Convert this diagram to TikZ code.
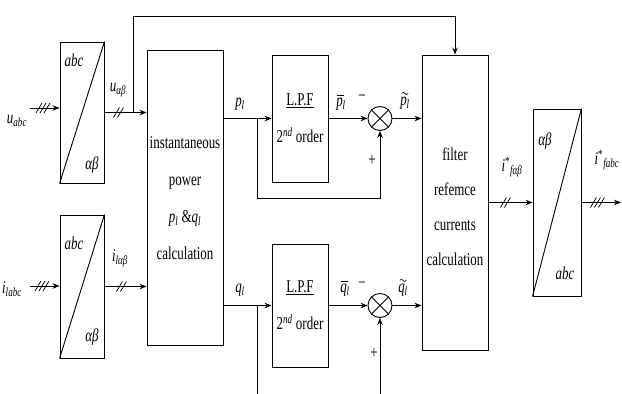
\documentclass[tikz,border=0pt]{standalone}
\usepackage{fontspec}
\setmainfont{Liberation Serif}[FakeStretch=0.72]
\usetikzlibrary{arrows.meta,calc}
\newcommand{\vr}[2]{\textit{#1}\textsubscript{\textit{#2}}}
\newcommand{\vrs}[2]{\textit{#1}\textsuperscript{*}\textsubscript{\textit{#2}}}
\begin{document}
\begin{tikzpicture}[x=1pt,y=-1pt,
  font=\fontsize{18}{20}\selectfont,
  line width=0.9pt,
  >={Stealth[length=7pt,width=5.5pt]},
  blk/.style={draw, inner sep=0pt, align=center},
  sumnode/.style={draw, circle, minimum size=24pt, inner sep=0pt},
  tickm/.style={line width=0.7pt},
  accl/.style={line width=0.6pt},
  lbl/.style={inner sep=0pt}]
\useasboundingbox (0,0) rectangle (622,394);
% blocks
\node[blk, minimum width=76pt, minimum height=295pt, font=\fontsize{18}{37}\selectfont] (P) at (185,198)
  {instantaneous\\power\\\vr{p}{l} \&\vr{q}{l}\\calculation};
\node[blk, minimum width=44pt, minimum height=141pt] (T1) at (82,112.5) {};
\node[blk, minimum width=44pt, minimum height=143pt] (T2) at (82,286.5) {};
\node[blk, minimum width=56pt, minimum height=127pt, font=\fontsize{18}{37}\selectfont] (L1) at (300,118.5)
  {\underline{L.P.F}\\2\textsuperscript{\itshape nd} order};
\node[blk, minimum width=56pt, minimum height=123pt, font=\fontsize{18}{37}\selectfont] (L2) at (300,305.5)
  {\underline{L.P.F}\\2\textsuperscript{\itshape nd} order};
\node[sumnode] (S1) at (380,118.5) {};
\node[sumnode] (S2) at (380,305.5) {};
\node[blk, minimum width=66pt, minimum height=295pt] (F) at (455,202.5) {};
\node[lbl, align=center, font=\fontsize{18}{35}\selectfont] (Ftxt) at (455,207) {filter\\refemce\\currents\\calculation};
\node[blk, minimum width=48pt, minimum height=187pt] (T3) at (557,202.5) {};
% diagonals and crosses
\draw (T1.south west) -- (T1.north east);
\draw (T2.south west) -- (T2.north east);
\draw (T3.south west) -- (T3.north east);
\draw (S1.north west) -- (S1.south east) (S1.north east) -- (S1.south west);
\draw (S2.north west) -- (S2.south east) (S2.north east) -- (S2.south west);
% transform labels
\node[lbl] (t1a) at (74,60) {\textit{abc}};
\node[lbl] (t1b) at (92,165) {\textit{αβ}};
\node[lbl] (t2a) at (74,243) {\textit{abc}};
\node[lbl] (t2b) at (92,337) {\textit{αβ}};
\node[lbl] (t3a) at (545,141) {\textit{αβ}};
\node[lbl] (t3b) at (565,273) {\textit{abc}};
% coordinates
\coordinate (uin) at (30,108);
\coordinate (iin) at (30,286);
\coordinate (br1) at (133,112.5);
\coordinate (topy) at (0,16);
\coordinate (fb) at (0,198);
\coordinate (bot) at (0,394);
\coordinate (b2) at (257,118.5);
\coordinate (b3) at (257,305.5);
\coordinate (iout) at (621,202.5);
% connectors
\draw[->] (uin) -- (uin -| T1.west);
\draw[->] (iin) -- (iin -| T2.west);
\draw[->] (T1.east) -- (T1.east -| P.west);
\draw[->] (T2.east) -- (T2.east -| P.west);
\draw[->] (br1) |- (topy -| F.north) -- (F.north);
\draw[->] (L1.west -| P.east) -- (L1.west);
\draw[->] (L2.west -| P.east) -- (L2.west);
\draw[->] (b2) |- (fb -| S1.south) -- (S1.south);
\draw (b3) -- (b3 |- bot);
\draw[->] (S2.south |- bot) -- (S2.south);
\draw[->] (L1.east) -- (S1.west);
\draw[->] (L2.east) -- (S2.west);
\draw[->] (S1.east) -- (S1.east -| F.west);
\draw[->] (S2.east) -- (S2.east -| F.west);
\draw[->] (T3.west -| F.east) -- (T3.west);
\draw[->] (T3.east) -- (iout);
% slash marks
\foreach \dx in {-4,0,4} \draw[tickm] ($(uin)+(13+\dx,0)$) +(-3,5) -- +(3,-5);
\foreach \dx in {-4,0,4} \draw[tickm] ($(iin)+(12+\dx,0)$) +(-3,5) -- +(3,-5);
\foreach \dx in {-2,2} \draw[tickm] ($(T1.east)+(14+\dx,0)$) +(-3,5) -- +(3,-5);
\foreach \dx in {-2,2} \draw[tickm] ($(T2.east)+(17+\dx,0)$) +(-3,5) -- +(3,-5);
\foreach \dx in {-2,2} \draw[tickm] ($(F.east)+(17+\dx,0)$) +(-3,5) -- +(3,-5);
\foreach \dx in {-4,0,4} \draw[tickm] ($(T3.east)+(16+\dx,0)$) +(-3,5) -- +(3,-5);
% signal labels
\node[lbl] (lu) at (17,121) {\vr{u}{abc}};
\node[lbl] (li) at (12,289) {\vr{i}{labc}};
\node[lbl] (lua) at (118,90) {\vr{u}{αβ}};
\node[lbl] (lia) at (120,258) {\vr{i}{lαβ}};
\node[lbl] (lp) at (240,104) {\vr{p}{l}};
\node[lbl] (lpb) at (341,104) {\vr{p}{l}};
\node[lbl] (lpt) at (405,103) {\vr{p}{l}};
\node[lbl] (m1) at (362,98) {−};
\node[lbl] (pl1) at (372,160) {+};
\node[lbl] (lq) at (240,290) {\vr{q}{l}};
\node[lbl] (lqb) at (345,290) {\vr{q}{l}};
\node[lbl] (lqt) at (403,290) {\vr{q}{l}};
\node[lbl] (m2) at (362,285) {−};
\node[lbl] (pl2) at (374,353) {+};
\node[lbl] (lif) at (512,167) {\vrs{i}{fαβ}};
\node[lbl] (lio) at (607,160) {\vrs{i}{fabc}};
% accents (bar and tilde) drawn above the letters
\draw[accl] ($(lpb.north west)+(1.5,-2.5)$) -- ++(6.5,0);
\draw[accl] ($(lqb.north west)+(1.5,-2.5)$) -- ++(6.5,0);
\draw[accl] ($(lpt.north west)+(2,-3)$) sin ++(1.6,-1.2) cos ++(1.6,1.2) sin ++(1.6,1.2) cos ++(1.6,-1.2);
\draw[accl] ($(lqt.north west)+(2,-3)$) sin ++(1.6,-1.2) cos ++(1.6,1.2) sin ++(1.6,1.2) cos ++(1.6,-1.2);
\end{tikzpicture}
\end{document}
